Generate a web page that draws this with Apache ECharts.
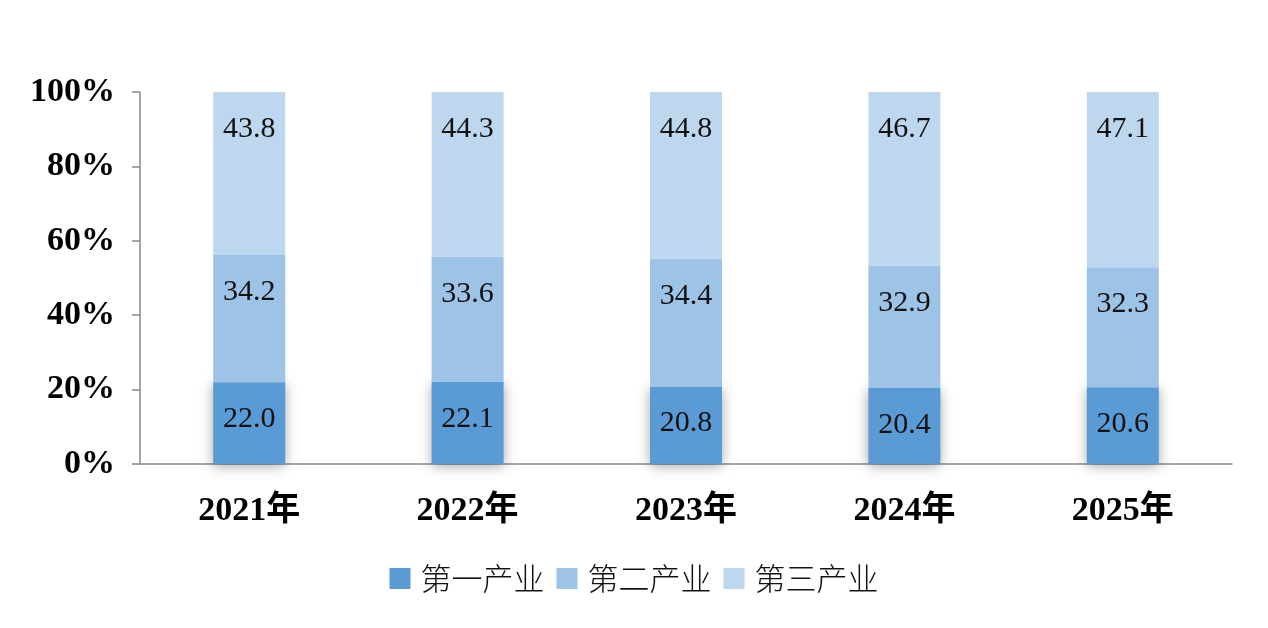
<!DOCTYPE html>
<html><head><meta charset="utf-8">
<script src="https://cdn.jsdelivr.net/npm/echarts@6/dist/echarts.min.js"></script>
<style>html,body{margin:0;padding:0;background:#fff}#c{width:1268px;height:628px}</style>
</head><body><div id="c"></div>
<script>
const categories = ['2021年','2022年','2023年','2024年','2025年'];
const seriesNames = ['第一产业','第二产业','第三产业'];
const primary = [22.0, 22.1, 20.8, 20.4, 20.6];
const secondary = [34.2, 33.6, 34.4, 32.9, 32.3];
const tertiary = [43.8, 44.3, 44.8, 46.7, 47.1];
const yTicks = [0, 20, 40, 60, 80, 100];

const colors = ['#5b9bd5', '#9dc3e6', '#bdd7ee'];
const serif = "'Liberation Serif','Times New Roman','Noto Sans CJK SC',serif";
const labelCfg = {
  show: true, position: 'insideTop', distance: 22,
  fontFamily: serif, fontSize: 30, color: '#111',
  formatter: p => p.value.toFixed(1)
};
const chart = echarts.init(document.getElementById('c'));
chart.setOption({
  animation: false,
  backgroundColor: '#fff',
  grid: { left: 140, right: 36, top: 92, bottom: 164, containLabel: false },
  legend: {
    data: seriesNames, bottom: 29, left: 'center', itemWidth: 21, itemHeight: 21, itemGap: 12,
    icon: 'rect',
    textStyle: { fontFamily: "'Noto Sans CJK SC',serif", fontSize: 31, color: '#111', fontWeight: 300, padding: [0,0,0,5] }
  },
  xAxis: {
    type: 'category', data: categories,
    axisLine: { lineStyle: { color: '#888', width: 1.5 } },
    axisTick: { show: false },
    axisLabel: { margin: 30, fontFamily: serif, fontWeight: 'bold', fontSize: 34, color: '#000' }
  },
  yAxis: {
    type: 'value', min: yTicks[0], max: yTicks[yTicks.length - 1], interval: 20,
    axisLine: { show: true, lineStyle: { color: '#888', width: 1.5 } },
    axisTick: { show: true, length: 8, lineStyle: { color: '#888', width: 1.5 } },
    splitLine: { show: false },
    axisLabel: { margin: 25, formatter: '{value}%', fontFamily: serif, fontWeight: 'bold', fontSize: 34, color: '#000', padding: [4,0,0,0] }
  },
  series: [
    { name: seriesNames[0], type: 'bar', stack: 'a', data: primary, barWidth: 72,
      itemStyle: { color: colors[0], shadowBlur: 12, shadowColor: 'rgba(0,0,0,0.35)', shadowOffsetY: 2 }, label: labelCfg },
    { name: seriesNames[1], type: 'bar', stack: 'a', data: secondary, barWidth: 72,
      itemStyle: { color: colors[1] }, label: labelCfg },
    { name: seriesNames[2], type: 'bar', stack: 'a', data: tertiary, barWidth: 72,
      itemStyle: { color: colors[2] }, label: labelCfg }
  ]
});
</script></body></html>
